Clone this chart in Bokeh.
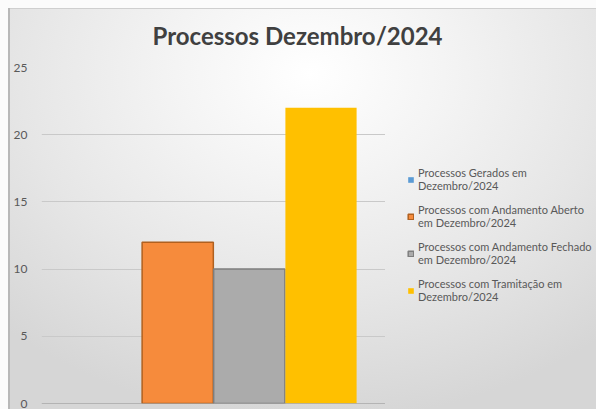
from bokeh.plotting import figure
from bokeh.layouts import column, row
from bokeh.models import FactorRange, ColumnDataSource, Legend, LegendItem, Span, FixedTicker, Range1d
from bokeh.transform import dodge
from bokeh.embed import file_html
from bokeh.resources import INLINE

# ---- data ----
categories = ["Dezembro/2024"]
series_names = [
    "Processos Gerados em\nDezembro/2024",
    "Processos com Andamento Aberto\nem Dezembro/2024",
    "Processos com Andamento Fechado\nem Dezembro/2024",
    "Processos com Tramitação em\nDezembro/2024",
]
series_values = [0, 12, 10, 22]
series_colors = ["#5B9BD5", "#F68B3C", "#ABABAB", "#FFC000"]
series_borders = [None, "#B0601F", "#7E7E7E", None]
y_ticks = [0, 5, 10, 15, 20, 25]
title_text = "Processos Dezembro/2024"

W, H = 596, 409
TOP = 60
MAIN_W = 385


def clear(fig):
    fig.background_fill_alpha = 0
    fig.border_fill_alpha = 0
    fig.outline_line_color = None


# --- title strip ---
pt = figure(width=W, height=TOP, output_backend="svg", toolbar_location=None,
            x_axis_type=None, y_axis_type=None, min_border=0)
clear(pt)
pt.xgrid.visible = False
pt.ygrid.visible = False
pt.title.text = title_text
pt.title.align = "left"
pt.title.text_font = "Lato"
pt.title.text_font_style = "bold"
pt.title.text_font_size = "24px"
pt.title.text_color = "#404040"
pt.title.offset = 152
pt.title.standoff = 0
pt.min_border_top = 49

# --- main chart ---
p = figure(
    width=MAIN_W, height=H - TOP,
    x_range=FactorRange(*categories, range_padding=0),
    y_range=(0, 25),
    output_backend="svg", toolbar_location=None,
    min_border_left=41, min_border_right=0,
    min_border_top=67 - TOP, min_border_bottom=6,
)
clear(p)

# --- legend holder ---
pl = figure(width=W - MAIN_W, height=H - TOP,
            x_range=FactorRange(*categories), y_range=Range1d(0, 25),
            output_backend="svg", toolbar_location=None,
            x_axis_type=None, y_axis_type=None, min_border=0)
clear(pl)
pl.xgrid.visible = False
pl.ygrid.visible = False

offsets = [-0.3125, -0.104, 0.104, 0.3125]
bar_w = 0.207
items = []
for name, val, col, bcol, off in zip(series_names, series_values, series_colors, series_borders, offsets):
    src = ColumnDataSource(dict(x=categories, top=[val]))
    kw = dict(top="top", width=bar_w, source=src, fill_color=col,
              line_color=bcol, line_width=1.5 if bcol else 0)
    p.vbar(x=dodge("x", off, range=p.x_range), **kw)
    r = pl.vbar(x=dodge("x", off, range=pl.x_range), visible=False, **kw)
    items.append(LegendItem(label=name, renderers=[r]))

legend = Legend(items=items, location=(22, 100), orientation="vertical",
                background_fill_alpha=0, border_line_color=None,
                inactive_fill_alpha=0,
                label_text_font="Lato", label_text_font_size="11px",
                label_text_line_height=1.35,
                label_text_color="#595959", glyph_width=7, glyph_height=7,
                label_standoff=4, spacing=11, padding=0, margin=0)
pl.add_layout(legend, "center")

p.xaxis.visible = False
p.xgrid.visible = False
p.ygrid.grid_line_color = "#c9c9c9"
p.ygrid.grid_line_width = 1

p.yaxis.ticker = FixedTicker(ticks=y_ticks)
p.yaxis.axis_line_color = None
p.yaxis.major_tick_line_color = None
p.yaxis.minor_tick_line_color = None
p.yaxis.major_label_text_font = "Lato"
p.yaxis.major_label_text_font_size = "12px"
p.yaxis.major_label_text_color = "#595959"
p.yaxis.major_label_standoff = 8

p.add_layout(Span(location=0, dimension="width", line_color="#8f8f8f", line_width=1))

layout = column(pt, row(p, pl, spacing=0), spacing=0)
layout.styles = {
    "background-image": (
        "linear-gradient(#fbfbfb,#fbfbfb), linear-gradient(#fbfbfb,#fbfbfb), "
        "linear-gradient(#b8b8b8,#b8b8b8), linear-gradient(#cfcfcf,#cfcfcf), "
        "radial-gradient(ellipse 75% 85% at 52% 18%, #ffffff 0%, #f4f4f4 30%, #e6e6e6 65%, #d6d6d6 100%)"
    ),
    "background-size": "100% 8px, 8px 100%, 2px 100%, 100% 1px, 100% 100%",
    "background-position": "0 0, 0 0, 8px 8px, 8px 8px, 0 0",
    "background-repeat": "no-repeat",
}

open("out.html", "w").write(file_html(layout, INLINE))
